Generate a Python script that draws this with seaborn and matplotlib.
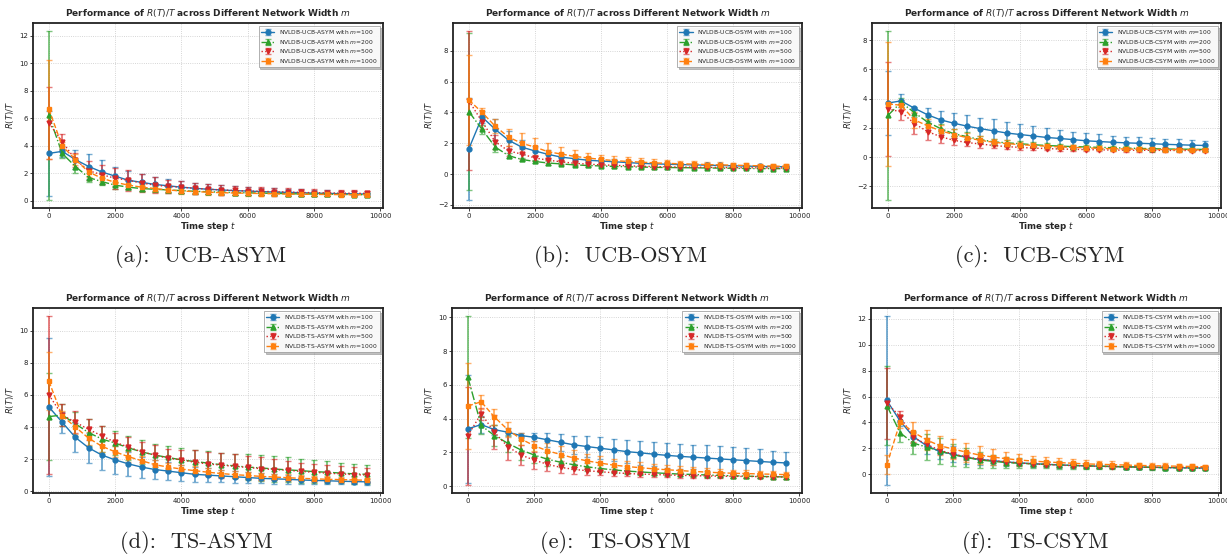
import numpy as np
import matplotlib
matplotlib.use("Agg")
import matplotlib.pyplot as plt
import seaborn as sns

# ---------------- data ----------------
t_steps = list(range(0, 10000, 400))
widths = [100, 200, 500, 1000]
captions = ["(a):  UCB-ASYM", "(b):  UCB-OSYM", "(c):  UCB-CSYM",
            "(d):  TS-ASYM", "(e):  TS-OSYM", "(f):  TS-CSYM"]
algos = ["NVLDB-UCB-ASYM", "NVLDB-UCB-OSYM", "NVLDB-UCB-CSYM",
         "NVLDB-TS-ASYM", "NVLDB-TS-OSYM", "NVLDB-TS-CSYM"]

# (a) UCB-ASYM
a_m100 = [3.45,3.6,3.0,2.5,2.1,1.8,1.5,1.35,1.2,1.1,1.0,0.92,0.85,0.8,0.75,0.72,0.68,0.65,0.62,0.6,0.57,0.55,0.53,0.52,0.5]
a_m100_err = [3.1,0.4,0.7,0.9,0.85,0.7,0.65,0.6,0.55,0.5,0.45,0.4,0.38,0.35,0.33,0.3,0.28,0.26,0.25,0.24,0.22,0.21,0.2,0.19,0.18]
a_m200 = [6.2,3.45,2.5,1.7,1.4,1.15,1.0,0.9,0.85,0.8,0.75,0.7,0.67,0.64,0.61,0.59,0.57,0.55,0.53,0.51,0.5,0.49,0.48,0.46,0.45]
a_m200_err = [6.1,0.3,0.45,0.3,0.25,0.25,0.2,0.2,0.2,0.18,0.18,0.17,0.16,0.15,0.15,0.14,0.14,0.13,0.13,0.12,0.12,0.12,0.11,0.11,0.1]
a_m500 = [5.65,4.3,3.0,2.2,1.9,1.65,1.5,1.3,1.15,1.05,1.0,0.92,0.86,0.8,0.76,0.72,0.7,0.67,0.65,0.62,0.6,0.59,0.57,0.56,0.55]
a_m500_err = [2.6,0.55,0.5,0.7,0.7,0.75,0.75,0.65,0.6,0.5,0.45,0.4,0.38,0.35,0.33,0.3,0.28,0.27,0.26,0.25,0.24,0.23,0.22,0.21,0.2]
a_m1000 = [6.65,4.0,3.0,2.1,1.65,1.35,1.15,1.0,0.9,0.8,0.72,0.68,0.64,0.6,0.58,0.56,0.54,0.52,0.5,0.49,0.48,0.47,0.46,0.45,0.45]
a_m1000_err = [3.6,0.3,0.4,0.35,0.3,0.3,0.28,0.25,0.23,0.22,0.2,0.2,0.19,0.18,0.17,0.17,0.16,0.15,0.15,0.14,0.14,0.13,0.13,0.12,0.12]

# (b) UCB-OSYM
b_m100 = [1.65,3.7,2.9,2.2,1.75,1.5,1.28,1.1,1.0,0.9,0.85,0.8,0.75,0.7,0.67,0.64,0.62,0.6,0.58,0.56,0.54,0.52,0.5,0.49,0.48]
b_m100_err = [3.3,0.4,0.7,0.6,0.45,0.35,0.3,0.25,0.22,0.2,0.18,0.17,0.16,0.15,0.14,0.13,0.13,0.12,0.12,0.11,0.11,0.1,0.1,0.1,0.1]
b_m200 = [4.05,2.9,1.75,1.2,0.95,0.82,0.72,0.66,0.6,0.56,0.53,0.5,0.48,0.46,0.44,0.43,0.42,0.41,0.4,0.39,0.38,0.37,0.36,0.36,0.35]
b_m200_err = [5.1,0.3,0.3,0.15,0.12,0.12,0.1,0.1,0.1,0.09,0.09,0.08,0.08,0.08,0.08,0.07,0.07,0.07,0.07,0.07,0.06,0.06,0.06,0.06,0.06]
b_m500 = [4.75,3.4,2.1,1.5,1.3,1.05,0.9,0.8,0.7,0.65,0.6,0.57,0.54,0.51,0.49,0.47,0.46,0.45,0.44,0.43,0.42,0.41,0.41,0.4,0.4]
b_m500_err = [4.5,0.45,0.45,0.35,0.3,0.2,0.15,0.13,0.12,0.11,0.1,0.1,0.09,0.09,0.08,0.08,0.08,0.08,0.07,0.07,0.07,0.07,0.07,0.07,0.07]
b_m1000 = [4.8,4.0,3.1,2.4,2.0,1.75,1.45,1.3,1.15,1.05,0.95,0.88,0.82,0.78,0.73,0.7,0.67,0.65,0.62,0.6,0.58,0.56,0.54,0.52,0.5]
b_m1000_err = [2.9,0.3,0.45,0.55,0.65,0.6,0.55,0.45,0.4,0.35,0.32,0.3,0.28,0.26,0.24,0.22,0.2,0.19,0.18,0.17,0.16,0.15,0.14,0.13,0.13]

# (c) UCB-CSYM
c_m100 = [3.7,3.85,3.35,2.9,2.55,2.32,2.12,1.95,1.8,1.65,1.55,1.45,1.35,1.28,1.2,1.12,1.07,1.02,0.98,0.95,0.92,0.88,0.85,0.82,0.8]
c_m100_err = [2.2,0.45,0.1,0.45,0.6,0.7,0.75,0.75,0.78,0.78,0.75,0.7,0.65,0.6,0.55,0.52,0.5,0.45,0.43,0.42,0.4,0.38,0.36,0.34,0.32]
c_m200 = [2.85,3.75,3.05,2.4,1.95,1.6,1.4,1.2,1.05,0.98,0.92,0.85,0.8,0.76,0.72,0.7,0.67,0.65,0.62,0.6,0.58,0.56,0.55,0.54,0.53]
c_m200_err = [5.75,0.3,0.3,0.35,0.3,0.3,0.3,0.25,0.22,0.2,0.18,0.17,0.16,0.15,0.14,0.14,0.13,0.13,0.12,0.12,0.12,0.11,0.11,0.11,0.1]
c_m500 = [3.3,3.1,2.3,1.75,1.4,1.15,1.0,0.9,0.8,0.72,0.67,0.62,0.59,0.56,0.54,0.52,0.5,0.49,0.48,0.47,0.47,0.46,0.46,0.45,0.45]
c_m500_err = [3.2,0.55,0.7,0.6,0.4,0.3,0.25,0.25,0.2,0.18,0.15,0.14,0.13,0.12,0.12,0.11,0.11,0.1,0.1,0.1,0.1,0.1,0.1,0.1,0.1]
c_m1000 = [3.65,3.55,2.55,2.15,1.8,1.55,1.33,1.15,1.02,0.93,0.86,0.8,0.75,0.7,0.67,0.64,0.6,0.58,0.56,0.55,0.53,0.52,0.51,0.5,0.5]
c_m1000_err = [4.25,0.35,0.55,0.45,0.4,0.35,0.3,0.28,0.25,0.22,0.2,0.18,0.17,0.16,0.15,0.14,0.14,0.13,0.13,0.12,0.12,0.12,0.11,0.11,0.11]

# (d) TS-ASYM
d_m100 = [5.25,4.3,3.35,2.7,2.25,1.95,1.7,1.5,1.35,1.25,1.15,1.05,1.0,0.95,0.9,0.85,0.8,0.77,0.74,0.7,0.67,0.65,0.62,0.6,0.58]
d_m100_err = [4.3,0.65,0.9,0.95,0.9,0.85,0.75,0.65,0.6,0.55,0.5,0.45,0.42,0.4,0.37,0.35,0.32,0.3,0.28,0.26,0.24,0.22,0.2,0.18,0.17]
d_m200 = [4.65,4.75,4.2,3.65,3.25,3.0,2.7,2.45,2.25,2.1,1.95,1.85,1.75,1.65,1.58,1.5,1.45,1.38,1.33,1.28,1.22,1.18,1.13,1.08,1.05]
d_m200_err = [2.7,0.7,0.75,0.85,0.8,0.75,0.75,0.75,0.72,0.7,0.72,0.72,0.75,0.75,0.75,0.8,0.8,0.8,0.78,0.75,0.72,0.7,0.65,0.62,0.6]
d_m500 = [6.0,4.75,4.3,3.85,3.45,3.05,2.75,2.45,2.25,2.05,1.95,1.8,1.7,1.62,1.55,1.48,1.4,1.35,1.3,1.23,1.18,1.12,1.08,1.03,1.0]
d_m500_err = [4.9,0.7,0.7,0.65,0.6,0.6,0.65,0.6,0.6,0.6,0.62,0.75,0.75,0.78,0.75,0.72,0.7,0.65,0.6,0.55,0.52,0.5,0.48,0.45,0.42]
d_m1000 = [6.85,4.7,4.0,3.3,2.8,2.45,2.15,1.9,1.65,1.5,1.38,1.28,1.18,1.1,1.03,0.98,0.92,0.88,0.84,0.8,0.77,0.74,0.72,0.7,0.68]
d_m1000_err = [1.8,0.3,0.45,0.4,0.35,0.35,0.35,0.3,0.3,0.28,0.27,0.26,0.25,0.24,0.23,0.22,0.21,0.2,0.2,0.19,0.18,0.18,0.17,0.17,0.16]

# (e) TS-OSYM
e_m100 = [3.4,3.65,3.35,3.2,3.0,2.9,2.75,2.6,2.45,2.35,2.25,2.15,2.05,1.98,1.9,1.83,1.77,1.72,1.67,1.62,1.57,1.52,1.47,1.42,1.38]
e_m100_err = [3.2,0.5,0.3,0.25,0.15,0.25,0.4,0.5,0.55,0.6,0.65,0.65,0.7,0.7,0.72,0.72,0.72,0.72,0.75,0.75,0.75,0.73,0.72,0.68,0.65]
e_m200 = [6.45,3.6,3.0,2.55,2.15,1.85,1.6,1.42,1.27,1.15,1.05,0.97,0.9,0.85,0.8,0.76,0.72,0.7,0.67,0.64,0.62,0.6,0.58,0.57,0.55]
e_m200_err = [3.6,0.5,0.6,0.5,0.6,0.5,0.4,0.3,0.25,0.25,0.22,0.2,0.18,0.17,0.16,0.15,0.14,0.13,0.12,0.12,0.11,0.11,0.1,0.1,0.1]
e_m500 = [3.0,4.3,3.2,2.35,1.85,1.55,1.3,1.12,1.0,0.92,0.86,0.8,0.76,0.72,0.7,0.67,0.65,0.63,0.61,0.6,0.59,0.58,0.57,0.56,0.55]
e_m500_err = [2.9,0.35,1.0,0.8,0.6,0.5,0.4,0.35,0.3,0.25,0.22,0.2,0.18,0.17,0.16,0.15,0.14,0.13,0.12,0.12,0.11,0.11,0.1,0.1,0.1]
e_m1000 = [4.75,5.0,4.1,3.35,2.8,2.4,2.1,1.88,1.67,1.5,1.37,1.25,1.17,1.1,1.03,0.98,0.93,0.88,0.84,0.8,0.77,0.75,0.73,0.71,0.69]
e_m1000_err = [2.55,0.4,0.45,0.45,0.35,0.3,0.45,0.5,0.45,0.42,0.4,0.37,0.34,0.32,0.3,0.28,0.26,0.25,0.24,0.22,0.21,0.2,0.19,0.18,0.17]

# (f) TS-CSYM
f_m100 = [5.7,4.1,2.9,2.2,1.75,1.55,1.3,1.15,1.05,0.95,0.88,0.82,0.77,0.72,0.68,0.65,0.62,0.6,0.58,0.56,0.54,0.52,0.5,0.49,0.48]
f_m100_err = [6.5,0.4,0.45,0.6,0.6,0.6,0.5,0.4,0.35,0.3,0.27,0.25,0.22,0.2,0.18,0.17,0.16,0.15,0.14,0.13,0.12,0.12,0.11,0.11,0.1]
f_m200 = [5.3,3.2,2.4,2.1,1.8,1.5,1.3,1.1,1.0,0.9,0.85,0.8,0.76,0.72,0.68,0.65,0.62,0.6,0.57,0.55,0.53,0.51,0.49,0.47,0.45]
f_m200_err = [3.05,0.7,0.85,1.0,1.0,0.85,0.75,0.6,0.5,0.45,0.4,0.35,0.3,0.28,0.25,0.23,0.22,0.2,0.19,0.18,0.17,0.16,0.15,0.14,0.13]
f_m500 = [5.5,4.45,2.85,2.3,1.85,1.55,1.35,1.15,1.05,0.95,0.87,0.8,0.75,0.7,0.67,0.64,0.61,0.59,0.57,0.55,0.54,0.53,0.52,0.51,0.5]
f_m500_err = [2.75,0.4,0.35,0.3,0.3,0.3,0.25,0.2,0.18,0.16,0.15,0.14,0.13,0.12,0.12,0.11,0.11,0.1,0.1,0.1,0.1,0.1,0.1,0.1,0.1]
f_m1000 = [0.75,4.05,3.25,2.65,2.2,1.95,1.7,1.48,1.33,1.2,1.1,1.02,0.95,0.9,0.85,0.8,0.77,0.74,0.71,0.68,0.66,0.64,0.62,0.6,0.58]
f_m1000_err = [0.75,0.5,0.8,0.8,0.75,0.75,0.75,0.7,0.6,0.5,0.45,0.4,0.35,0.32,0.3,0.28,0.26,0.25,0.24,0.22,0.21,0.2,0.19,0.18,0.17]

panels = [
    [(a_m100, a_m100_err), (a_m200, a_m200_err), (a_m500, a_m500_err), (a_m1000, a_m1000_err)],
    [(b_m100, b_m100_err), (b_m200, b_m200_err), (b_m500, b_m500_err), (b_m1000, b_m1000_err)],
    [(c_m100, c_m100_err), (c_m200, c_m200_err), (c_m500, c_m500_err), (c_m1000, c_m1000_err)],
    [(d_m100, d_m100_err), (d_m200, d_m200_err), (d_m500, d_m500_err), (d_m1000, d_m1000_err)],
    [(e_m100, e_m100_err), (e_m200, e_m200_err), (e_m500, e_m500_err), (e_m1000, e_m1000_err)],
    [(f_m100, f_m100_err), (f_m200, f_m200_err), (f_m500, f_m500_err), (f_m1000, f_m1000_err)],
]

# ---------------- style ----------------
sns.set_theme(style="white")
plt.rcParams['font.family'] = ['DejaVu Sans']
pal = sns.color_palette("tab10")
colors = [pal[0], pal[2], pal[3], pal[1]]
markers = ['o', '^', 'v', 's']
lstyles = ['-', '-.', ':', '--']

W, H = 1227, 554
fig = plt.figure(figsize=(W / 100, H / 100), dpi=100)

# axes boxes in pixels: (left, right, top, bottom)
boxes = [(33, 383, 23, 208), (453, 802, 23, 208), (872, 1221, 23, 208),
         (33, 383, 308, 493), (452, 802, 308, 493), (871, 1221, 308, 493)]
cap_pos = [(201, 257), (620, 257), (1040, 257), (196, 543), (615, 543), (1035, 543)]

for i, (l, r, t, b) in enumerate(boxes):
    ax = fig.add_axes([l / W, 1 - b / H, (r - l) / W, (b - t) / H])
    for j, (mean, err) in enumerate(panels[i]):
        ax.errorbar(t_steps, mean, yerr=err, color=colors[j], marker=markers[j],
                    linestyle=lstyles[j], linewidth=1.0, markersize=3.5,
                    elinewidth=1.4, capsize=2.5, capthick=1.0, ecolor=colors[j] + (0.6,),
                    label=f"{algos[i]} with $m$={widths[j]}")
    ax.set_xticks([0, 2000, 4000, 6000, 8000, 10000])
    ax.grid(True, linestyle=':', linewidth=0.6, color='#bbbbbb', alpha=0.8)
    for s in ax.spines.values():
        s.set_linewidth(1.3)
        s.set_color('#222222')
    ax.tick_params(axis='both', labelsize=5, length=2, width=0.6, pad=1.5,
                   bottom=True, left=True, colors='#222222')
    ax.set_title("Performance of $R(T)/T$ across Different Network Width $m$",
                 fontsize=6.5, fontweight='bold', pad=5)
    ax.set_xlabel("Time step $t$", fontsize=6.2, fontweight='bold', labelpad=1)
    ax.set_ylabel("$R(T)/T$", fontsize=6, labelpad=2)
    leg = ax.legend(loc='upper right', fontsize=4.3,
                    shadow={'ox': 1.2, 'oy': -1.2, 'alpha': 0.35},
                    fancybox=False, framealpha=0.9, borderpad=0.4, handlelength=2.2,
                    labelspacing=0.25, edgecolor='#999999')
    leg.get_frame().set_linewidth(0.6)
    fig.text(cap_pos[i][0] / W, 1 - cap_pos[i][1] / H, captions[i],
             fontsize=16, family='cmr10', ha='center', va='center')

fig.savefig("out.png", dpi=100)
